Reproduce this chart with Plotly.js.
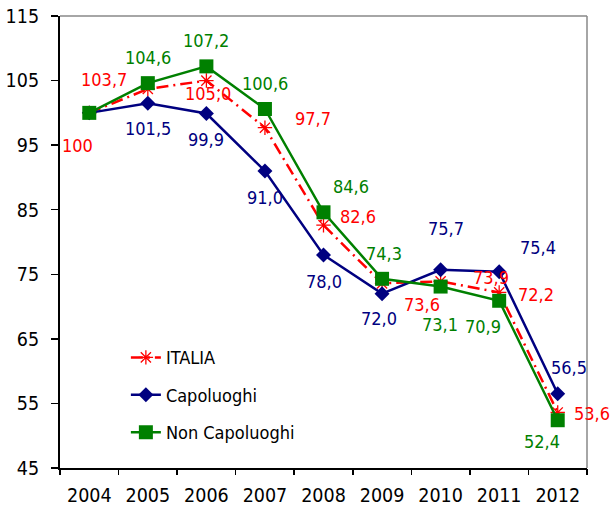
<!DOCTYPE html>
<html>
<head>
<meta charset="utf-8">
<script src="https://cdn.plot.ly/plotly-3.0.1.min.js"></script>
<style>html,body{margin:0;padding:0;background:#fff;}#chart{width:612px;height:509px;}</style>
</head>
<body>
<div id="chart"></div>
<script>
// ---- data ----
const years = ['2004','2005','2006','2007','2008','2009','2010','2011','2012'];
const italia = [100, 103.7, 105.0, 97.7, 82.6, 73.6, 73.9, 72.2, 53.6];
const capoluoghi = [100, 101.5, 99.9, 91.0, 78.0, 72.0, 75.7, 75.4, 56.5];
const nonCapoluoghi = [100, 104.6, 107.2, 100.6, 84.6, 74.3, 73.1, 70.9, 52.4];
const seriesNames = ['ITALIA', 'Capoluoghi', 'Non Capoluoghi'];

// ---- label placement (pixel offsets: dx right, dy down) ----
const italiaOffsets = [[-12,33],[-44,-9],[2,13],[48,-9],[34,-9],[40,21],[50,-4],[37,2],[34,1]];
const capOffsets = [null,[0,25],[0,26],[0,27],[0,27],[-3,25],[5,-41],[39,-24],[11,-26]];
const nonCapOffsets = [null,[0,-26],[0,-26],[0,-25],[27,-26],[2,-25],[-1,38],[-16,26],[-16,21]];

const RED = '#FF0000', NAVY = '#000080', GREEN = '#008000';
const FONT = '"DejaVu Sans Condensed", "DejaVu Sans", sans-serif';
const xIdx = years.map((_, i) => i);

function fmt(v) { return v === 100 ? '100' : v.toFixed(1).replace('.', ','); }

const traces = [
  {
    x: xIdx, y: italia, name: seriesNames[0], type: 'scatter', mode: 'lines+markers',
    line: {color: RED, width: 2.5, dash: '12px,5px,2px,5px'},
    marker: {symbol: 'asterisk-open', size: 12, color: RED, line: {color: RED, width: 1.3}},
    legendgroup: 'a'
  },
  {
    x: xIdx, y: capoluoghi, name: seriesNames[1], type: 'scatter', mode: 'lines+markers',
    line: {color: NAVY, width: 2.5},
    marker: {symbol: 'diamond', size: 11.5, color: NAVY},
    legendgroup: 'b'
  },
  {
    x: xIdx, y: nonCapoluoghi, name: seriesNames[2], type: 'scatter', mode: 'lines+markers',
    line: {color: GREEN, width: 2.5},
    marker: {symbol: 'square', size: 14, color: GREEN},
    legendgroup: 'c'
  }
];

const annotations = [];
function addLabels(vals, offs, color) {
  vals.forEach((v, i) => {
    if (!offs[i]) return;
    annotations.push({
      x: i, y: v, xref: 'x', yref: 'y', text: fmt(v), showarrow: false,
      xshift: offs[i][0], yshift: -offs[i][1],
      font: {family: FONT, size: 18, color: color}
    });
  });
}
addLabels(italia, italiaOffsets, RED);
addLabels(capoluoghi, capOffsets, NAVY);
addLabels(nonCapoluoghi, nonCapOffsets, GREEN);

const layout = {
  width: 612, height: 509,
  margin: {l: 60, r: 25, t: 16, b: 41},
  paper_bgcolor: '#fff', plot_bgcolor: '#fff',
  font: {family: FONT, size: 19, color: '#000'},
  showlegend: true,
  legend: {
    x: 0.125, y: 0.285, xanchor: 'left', yanchor: 'top',
    traceorder: 'grouped', tracegroupgap: 11,
    font: {family: FONT, size: 18, color: '#000'},
    bgcolor: 'rgba(0,0,0,0)'
  },
  xaxis: {
    type: 'linear', range: [-0.5, 8.5],
    tickmode: 'array', tickvals: xIdx, ticktext: years,
    showgrid: false, zeroline: false,
    showline: true, linecolor: '#000', linewidth: 2,
    ticks: '', ticklabelstandoff: 9,
    tickfont: {family: FONT, size: 19.5, color: '#000'}
  },
  yaxis: {
    range: [45, 115], dtick: 10, tick0: 45,
    showgrid: false, zeroline: false,
    showline: true, linecolor: '#000', linewidth: 2,
    ticks: 'outside', ticklen: 7, tickwidth: 1.5, tickcolor: '#000',
    ticklabelstandoff: 8,
    tickfont: {family: FONT, size: 19.5, color: '#000'}
  },
  xaxis2: {
    overlaying: 'x', range: [-0.5, 8.5], tickmode: 'array',
    tickvals: [-0.5,0.5,1.5,2.5,3.5,4.5,5.5,6.5,7.5,8.5],
    showticklabels: false, ticks: 'outside', ticklen: 6, tickwidth: 1.5, tickcolor: '#000',
    showgrid: false, zeroline: false, showline: false, side: 'bottom', anchor: 'y'
  },
  shapes: [
    {type: 'line', xref: 'paper', yref: 'paper', x0: 0, x1: 1, y0: 1, y1: 1, line: {color: '#888', width: 1.5}, layer: 'below'},
    {type: 'line', xref: 'paper', yref: 'paper', x0: 1, x1: 1, y0: 0, y1: 1, line: {color: '#888', width: 1.5}, layer: 'below'}
  ],
  annotations: annotations
};

// invisible trace to activate xaxis2 (for boundary tick marks)
traces.push({x: [0], y: [45], xaxis: 'x2', yaxis: 'y', type: 'scatter', mode: 'markers',
  marker: {opacity: 0}, showlegend: false, hoverinfo: 'skip'});

Plotly.newPlot('chart', traces, layout, {displayModeBar: false, staticPlot: true});
</script>
</body>
</html>
